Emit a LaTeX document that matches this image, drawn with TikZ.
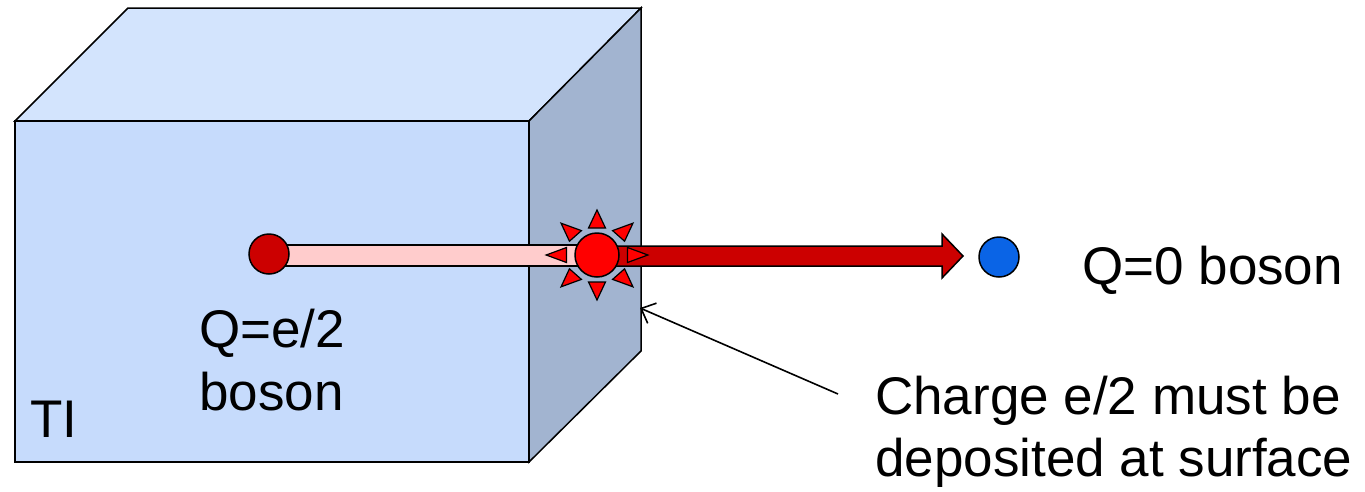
\documentclass[tikz,border=0pt]{standalone}
\usepackage{fontspec}
\setmainfont{Liberation Sans}
\usetikzlibrary{arrows.meta,calc}
\definecolor{frontc}{RGB}{198,219,252}
\definecolor{topc}{RGB}{211,228,253}
\definecolor{sidec}{RGB}{162,180,208}
\definecolor{pinkc}{RGB}{255,204,204}
\definecolor{darkred}{RGB}{204,0,0}
\definecolor{sunred}{RGB}{255,0,0}
\definecolor{bluec}{RGB}{10,100,230}
\tikzset{
  face/.style={draw=black,line width=1.5pt,line join=miter},
  outl/.style={draw=black,line width=1.5pt},
  lbl/.style={inner sep=0pt,anchor=base west,font=\fontsize{53}{62}\selectfont},
}
\begin{document}
\begin{tikzpicture}[x=1pt,y=-1pt]
\useasboundingbox (0,0) rectangle (1365,491);
% cube
\path[face,fill=topc] (15,121) -- (128,8) -- (641,8) -- (529,121) -- cycle;
\path[face,fill=sidec] (529,121) -- (641,8) -- (641,351) -- (529,462) -- cycle;
\path[face,fill=frontc] (15,121) rectangle (529,462);
% pink bar
\path[outl,fill=pinkc] (269,245) rectangle (580,266);
% e/2 boson dot
\node[outl,fill=darkred,circle,minimum size=40pt,inner sep=0pt] (qdot) at (269,254) {};
% dark red arrow
\path[outl,fill=darkred,line join=miter] (615,246) -- (942,246) -- (942,234) -- (963,256) -- (942,278) -- (942,266) -- (615,266) -- cycle;
% sun
\begin{scope}[shift={(597,255)},xscale=1.13]
  \foreach \a in {0,45,...,315}{
    \path[draw=black,line width=1.2pt,fill=sunred,line join=miter]
      ($(\a:27)+(\a+90:7.5)$) -- (\a:45) -- ($(\a:27)+(\a-90:7.5)$) -- cycle;
  }
  \node[outl,fill=sunred,circle,minimum size=44pt,inner sep=0pt] (sun) at (0,0) {};
\end{scope}
% neutral boson
\node[outl,fill=bluec,circle,minimum size=40pt,inner sep=0pt] (bdot) at (999,257) {};
% labels
\node[lbl] (q0) at (1082,284) {Q=0 boson};
\node[lbl] (qe1) at (199,347) {Q=e/2};
\node[lbl] (qe2) at (199,410) {boson};
\node[lbl] (ti) at (30,437) {TI};
\node[lbl] (ch1) at (875,414) {Charge e/2 must be};
\node[lbl] (ch2) at (875,476) {deposited at surface};
% pointer
\coordinate (ptail) at (838,394);
\coordinate (phead) at (640,308);
\draw[line width=1.6pt,-{Straight Barb[length=12pt,width=22pt,line width=1.6pt]}] (ptail) -- (phead);
\end{tikzpicture}
\end{document}
